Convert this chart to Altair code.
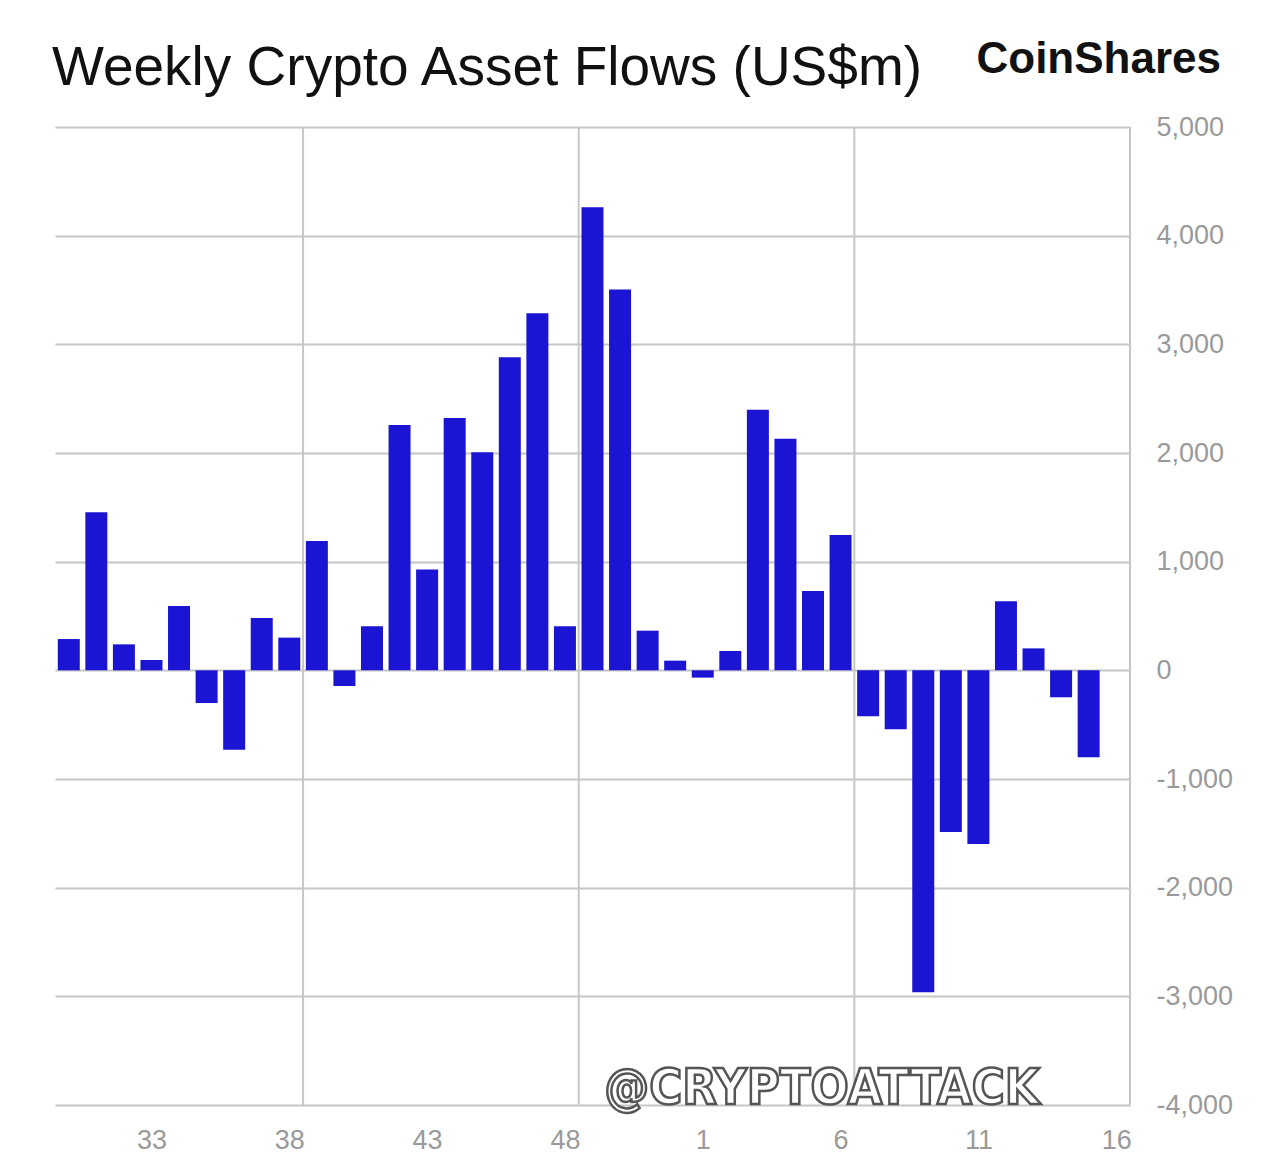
import altair as alt
import pandas as pd

# ---- data ----
weeks = [30, 31, 32, 33, 34, 35, 36, 37, 38, 39, 40, 41, 42, 43, 44, 45, 46, 47, 48, 49, 50, 51, 52,
         1, 2, 3, 4, 5, 6, 7, 8, 9, 10, 11, 12, 13, 14, 15]
flows = [288, 1454, 239, 95, 592, -301, -730, 481, 301, 1190, -144, 405, 2257, 929, 2321, 2006,
         2882, 3287, 405, 4262, 3505, 365, 89,
         -67, 178, 2398, 2131, 730, 1245, -423, -543, -2962, -1487, -1598, 635, 202, -248, -800]
x_tick_positions = [33, 38, 43, 48, 53, 58, 63, 68]
y_ticks = [-4000, -3000, -2000, -1000, 0, 1000, 2000, 3000, 4000, 5000]
vgrid = [38.5, 48.5, 58.5, 68.5]

title_text = "Weekly Crypto Asset Flows (US$m)"
logo_text = "CoinShares"
watermark = "@CRYPTOATTACK"

# sequential position so the year wraps (week 1 follows week 52)
seq = [w if w >= 30 else w + 52 for w in weeks]
df = pd.DataFrame({"seq": seq, "week": weeks, "flow": flows})
vg = pd.DataFrame({"seq": vgrid})
one = pd.DataFrame({"a": [0]})

FONT = "Liberation Sans"
GRID = "#c6c6c6"
LABEL = "#9a9a9a"

xscale = alt.Scale(domain=[29.5, 68.5], nice=False, zero=False, padding=0)
yscale = alt.Scale(domain=[-4000, 5000], nice=False)

xaxis = alt.Axis(
    values=x_tick_positions,
    labelExpr="datum.value > 52 ? datum.value - 52 : datum.value",
    grid=False, domain=False, ticks=False, title=None,
    labelFont=FONT, labelFontSize=27, labelColor=LABEL, labelPadding=22,
)

vrules = alt.Chart(vg).mark_rule(color=GRID, strokeWidth=2).encode(
    x=alt.X("seq:Q", scale=xscale, axis=xaxis)
)

bars = alt.Chart(df).mark_bar(size=22, color="#1b14d2").encode(
    x=alt.X("seq:Q", scale=xscale, axis=xaxis),
    y=alt.Y(
        "flow:Q",
        scale=yscale,
        axis=alt.Axis(
            orient="right", values=y_ticks,
            labelExpr="(datum.value < 0 ? '-' : '') + format(abs(datum.value), ',')",
            grid=True, gridColor=GRID, gridWidth=2, domain=False, ticks=False, title=None,
            labelFont=FONT, labelFontSize=27, labelColor=LABEL, labelPadding=26,
        ),
    ),
)

title = alt.Chart(one).mark_text(
    text=title_text, font=FONT, fontSize=55, color="#111111", align="left", baseline="alphabetic"
).encode(x=alt.value(-3), y=alt.value(-42))

logo = alt.Chart(one).mark_text(
    text=logo_text, font=FONT, fontSize=44, fontWeight="bold", color="#111111",
    align="right", baseline="alphabetic"
).encode(x=alt.value(1166), y=alt.value(-54))

wm = alt.Chart(one).mark_text(
    text=watermark, font="DejaVu Sans Condensed", fontSize=50, fontWeight="bold",
    fill="#ffffff", stroke="#555555", strokeWidth=2.5, align="center", baseline="alphabetic"
).encode(x=alt.value(767), y=alt.value(977))

chart = alt.layer(vrules, bars, title, logo, wm).properties(
    width=1075, height=978,
    background="white",
    autosize=alt.AutoSizeParams(type="none"),
    padding={"left": 47, "top": 119, "right": 130, "bottom": 50},
).configure_view(strokeWidth=0)

chart.save("out.html", embed_options={"renderer": "svg", "actions": False})
